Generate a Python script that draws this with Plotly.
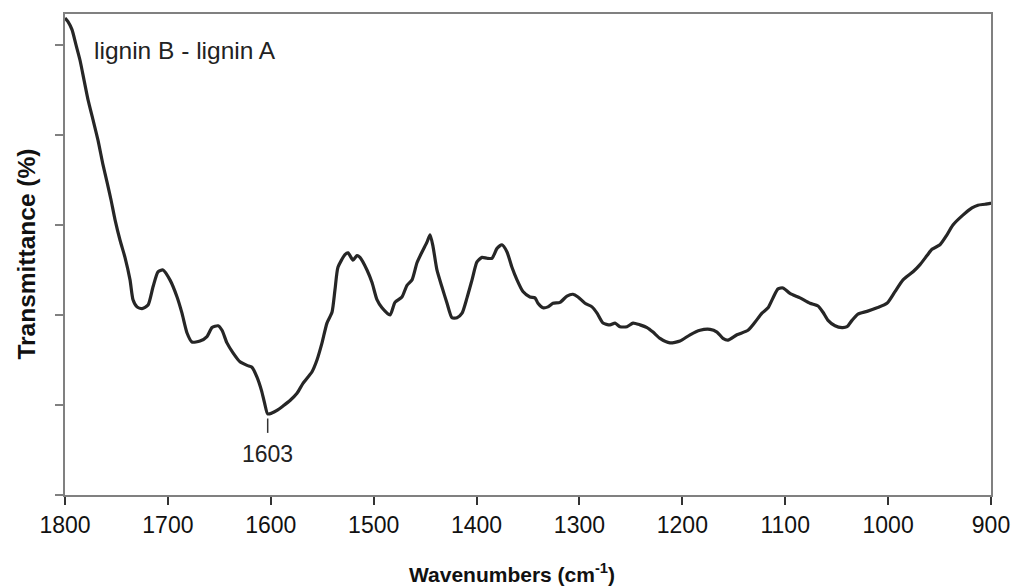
import plotly.graph_objects as go

# FTIR difference spectrum (lignin B - lignin A), 1800-900 cm-1
wavenumber = [
    1800.0, 1797.1, 1793.2, 1789.3, 1785.4, 1781.5, 1777.6, 1772.8, 1767.9, 1763.1,
    1759.2, 1755.3, 1751.4, 1746.5, 1741.7, 1736.8, 1733.9, 1730.0, 1725.2, 1719.3,
    1714.5, 1709.6, 1704.8, 1698.0, 1691.1, 1686.3, 1681.4, 1676.6, 1668.8, 1662.0,
    1657.1, 1651.3, 1647.4, 1642.6, 1636.7, 1629.9, 1623.1, 1618.3, 1613.4, 1609.0,
    1606.0, 1603.0, 1599.0, 1594.0, 1588.0, 1581.3, 1574.5, 1568.7, 1559.9, 1555.1,
    1550.2, 1545.4, 1540.5, 1537.6, 1534.7, 1527.9, 1524.9, 1520.1, 1516.2, 1513.3,
    1506.5, 1501.6, 1496.8, 1491.9, 1484.1, 1479.3, 1472.5, 1467.6, 1462.7, 1457.9,
    1453.0, 1448.2, 1445.2, 1442.3, 1438.5, 1433.6, 1428.7, 1423.9, 1419.0, 1414.1,
    1409.3, 1404.4, 1399.6, 1394.7, 1389.8, 1385.0, 1380.1, 1375.3, 1370.4, 1365.6,
    1360.7, 1354.9, 1348.1, 1343.2, 1340.3, 1335.4, 1330.6, 1325.7, 1318.9, 1312.1,
    1306.3, 1301.4, 1294.6, 1287.8, 1282.9, 1277.1, 1270.3, 1265.4, 1260.6, 1253.8,
    1247.9, 1241.1, 1234.3, 1228.5, 1221.7, 1212.0, 1202.3, 1192.5, 1182.8, 1173.1,
    1166.3, 1160.5, 1155.6, 1146.9, 1136.2, 1129.4, 1122.6, 1116.7, 1111.9, 1107.0,
    1102.2, 1095.4, 1085.6, 1075.9, 1068.1, 1063.3, 1058.4, 1051.6, 1044.8, 1039.9,
    1035.1, 1029.3, 1020.5, 1010.8, 1001.1, 993.3, 985.5, 975.8, 969.0, 962.2,
    957.4, 949.6, 942.8, 937.0, 927.3, 918.5, 912.7, 905.8, 901.0, 900.0,
]
transmittance = [
    53.0, 52.6, 51.7, 50.0, 48.3, 46.1, 43.9, 41.7, 39.4, 36.7,
    34.8, 32.8, 30.6, 28.3, 26.4, 23.9, 21.7, 20.9, 20.7, 21.1,
    23.1, 24.8, 25.0, 23.9, 22.0, 20.2, 18.0, 17.0, 17.1, 17.6,
    18.6, 18.8, 18.3, 16.9, 15.8, 14.8, 14.4, 14.2, 13.1, 11.6,
    10.2, 9.0, 9.1, 9.4, 9.9, 10.5, 11.3, 12.4, 13.7, 15.0,
    16.9, 19.1, 20.3, 22.8, 25.3, 26.7, 26.9, 26.1, 26.6, 26.4,
    25.0, 23.6, 21.7, 20.8, 20.0, 21.4, 22.0, 23.3, 23.9, 25.8,
    27.0, 28.1, 28.9, 27.6, 25.0, 23.1, 21.3, 19.7, 19.7, 20.2,
    21.9, 23.9, 25.9, 26.4, 26.3, 26.3, 27.4, 27.8, 27.0, 25.3,
    23.9, 22.6, 22.0, 21.9, 21.3, 20.8, 20.9, 21.3, 21.4, 22.1,
    22.3, 22.0, 21.3, 20.9, 20.2, 19.1, 18.9, 19.1, 18.7, 18.7,
    19.1, 18.9, 18.6, 18.1, 17.4, 16.9, 17.1, 17.8, 18.3, 18.4,
    18.1, 17.4, 17.2, 17.8, 18.3, 19.2, 20.2, 20.8, 21.9, 22.9,
    23.0, 22.4, 21.9, 21.3, 21.0, 20.3, 19.4, 18.8, 18.6, 18.7,
    19.4, 20.1, 20.4, 20.8, 21.3, 22.6, 23.9, 24.8, 25.6, 26.6,
    27.3, 27.8, 28.9, 30.0, 31.1, 31.9, 32.2, 32.3, 32.4, 32.4,
]

x_ticks = [1800, 1700, 1600, 1500, 1400, 1300, 1200, 1100, 1000, 900]
y_ticks = [0, 10, 20, 30, 40, 50]

band_label = "1603"
band_wn = 1603.0
band_t = transmittance[wavenumber.index(band_wn)]

FONT = "Liberation Sans, Arial, sans-serif"

fig = go.Figure()
fig.add_trace(go.Scatter(
    x=wavenumber, y=transmittance, mode="lines",
    line=dict(color="#262626", width=3.2, shape="spline", smoothing=0.6),
    hoverinfo="x+y", showlegend=False,
))

# marker line and label under the 1603 cm-1 band
fig.add_shape(type="line", xref="x", yref="y",
              x0=band_wn, x1=band_wn, y0=band_t - 0.5, y1=band_t - 2.1,
              line=dict(color="#333333", width=1.5))
fig.add_annotation(x=band_wn, y=band_t - 4.4, xref="x", yref="y",
                   text=band_label, showarrow=False,
                   font=dict(family=FONT, size=23, color="#222222"),
                   xanchor="center", yanchor="middle")

fig.add_annotation(x=0.029, y=0.925, xref="paper", yref="paper",
                   text="lignin B - lignin A", showarrow=False,
                   font=dict(family=FONT, size=24.5, color="#222222"),
                   xanchor="left", yanchor="middle")

fig.add_annotation(x=0.483, y=-0.162, xref="paper", yref="paper",
                   text="<b>Wavenumbers (cm<sup>-1</sup>)</b>", showarrow=False,
                   font=dict(family=FONT, size=21, color="#111111"),
                   xanchor="center", yanchor="middle")
fig.add_annotation(x=-0.042, y=0.5, xref="paper", yref="paper",
                   text="<b>Transmittance (%)</b>", showarrow=False, textangle=-90,
                   font=dict(family=FONT, size=24.5, color="#111111"),
                   xanchor="center", yanchor="middle")

fig.update_layout(
    width=1026, height=588,
    margin=dict(l=65, r=35, t=14, b=93),
    paper_bgcolor="white", plot_bgcolor="white",
    font=dict(family=FONT, color="#111111"),
)
fig.update_xaxes(
    range=[1800, 900], tickvals=x_ticks, ticktext=[str(v) for v in x_ticks],
    ticks="outside", ticklen=8, tickwidth=2, tickcolor="#333333",
    tickfont=dict(family=FONT, size=23, color="#111111"),
    showline=True, linecolor="#808080", linewidth=2, mirror=True,
    showgrid=False, zeroline=False,
)
fig.update_yaxes(
    range=[0, 53.44], tickvals=y_ticks, showticklabels=False,
    ticks="outside", ticklen=8, tickwidth=1.5, tickcolor="#808080",
    showline=True, linecolor="#808080", linewidth=2, mirror=True,
    showgrid=False, zeroline=False,
)

fig.write_html("out.html")
